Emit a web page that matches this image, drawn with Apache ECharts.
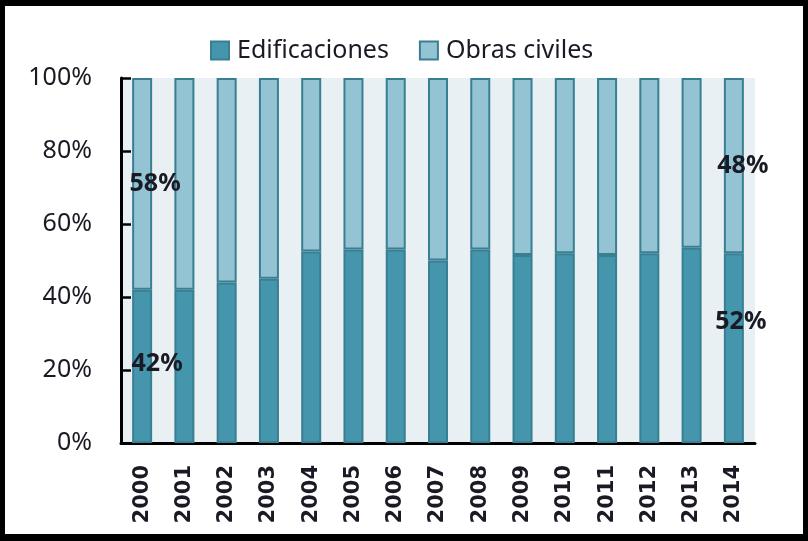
<!DOCTYPE html>
<html>
<head>
<meta charset="utf-8">
<script src="https://cdn.jsdelivr.net/npm/echarts@6/dist/echarts.min.js"></script>
<style>
  html, body { margin: 0; padding: 0; background: #fff; }
  #wrap { position: relative; width: 808px; height: 541px; }
  #chart { position: absolute; left: 0; top: 0; width: 808px; height: 541px; }
  #frame { position: absolute; left: 0; top: 0; width: 808px; height: 541px;
           box-sizing: border-box; border: 5px solid #000; border-top-width: 6px;
           border-bottom-width: 7px; pointer-events: none; }
</style>
</head>
<body>
<div id="wrap">
  <div id="chart"></div>
  <div id="frame"></div>
</div>
<script>
// años
var years = ['2000', '2001', '2002', '2003', '2004', '2005', '2006', '2007',
    '2008', '2009', '2010', '2011', '2012', '2013', '2014'];
// participación (%) por tipo de obra
var edificaciones = [42, 42, 44, 45, 52.5, 53, 53, 50, 53, 51.5, 52, 51.5, 52, 53.5, 52];
var obrasCiviles = [58, 58, 56, 55, 47.5, 47, 47, 50, 47, 48.5, 48, 48.5, 48, 46.5, 48];
var yTicks = [0, 20, 40, 60, 80, 100];

// etiquetas solo en el primer y último año
var labelIdx = [0, years.length - 1];
var edifOffsets = { 0: [15, -2], 14: [7, -26] };
var obrasOffsets = { 0: [13, 0], 14: [9, 0] };

var dark = '#4596ac';
var light = '#94c4d4';
var edge = '#387f92';
var ink = '#1a1a24';

function withLabels(values, offsets) {
    return values.map(function (v, i) {
        if (labelIdx.indexOf(i) < 0) return v;
        return {
            value: v,
            label: {
                show: true,
                position: 'inside',
                offset: offsets[i],
                formatter: function (p) { return Math.round(p.value) + '%'; },
                color: ink,
                fontFamily: 'Noto Sans',
                fontWeight: 'bold',
                fontSize: 25
            }
        };
    });
}

var chart = echarts.init(document.getElementById('chart'), null, { renderer: 'canvas' });

chart.setOption({
    backgroundColor: '#fff',
    animation: false,
    legend: {
        data: ['Edificaciones', 'Obras civiles'],
        left: 205,
        top: 33,
        icon: 'rect',
        itemWidth: 18,
        itemHeight: 18,
        itemGap: 30,
        textStyle: { color: ink, fontFamily: 'Noto Sans', fontSize: 25, padding: [0, 0, 0, 3] }
    },
    grid: {
        left: 121, right: 53, top: 78, bottom: 98,
        show: true, backgroundColor: '#e9f0f4', borderWidth: 0
    },
    xAxis: {
        type: 'category',
        data: years,
        axisLine: { lineStyle: { color: '#000', width: 3 } },
        axisTick: { inside: true, length: 10, lineStyle: { color: '#000', width: 2.5 } },
        axisLabel: {
            rotate: 90, margin: 22, color: ink,
            fontFamily: 'DejaVu Sans', fontWeight: 'bold', fontSize: 21
        }
    },
    yAxis: {
        type: 'value',
        min: yTicks[0], max: yTicks[yTicks.length - 1], interval: 20,
        splitLine: { show: false },
        axisLine: { show: true, lineStyle: { color: '#000', width: 3 } },
        axisTick: { show: true, inside: true, length: 10, lineStyle: { color: '#000', width: 2.5 } },
        axisLabel: {
            margin: 29, color: ink, fontFamily: 'Noto Sans', fontSize: 25,
            formatter: '{value}%'
        }
    },
    series: [
        {
            name: 'Edificaciones', type: 'bar', stack: 'total', barWidth: 20,
            itemStyle: { color: dark, borderColor: edge, borderWidth: 2 },
            data: withLabels(edificaciones, edifOffsets)
        },
        {
            name: 'Obras civiles', type: 'bar', stack: 'total', barWidth: 20,
            itemStyle: { color: light, borderColor: edge, borderWidth: 2 },
            data: withLabels(obrasCiviles, obrasOffsets)
        }
    ]
});
</script>
</body>
</html>
